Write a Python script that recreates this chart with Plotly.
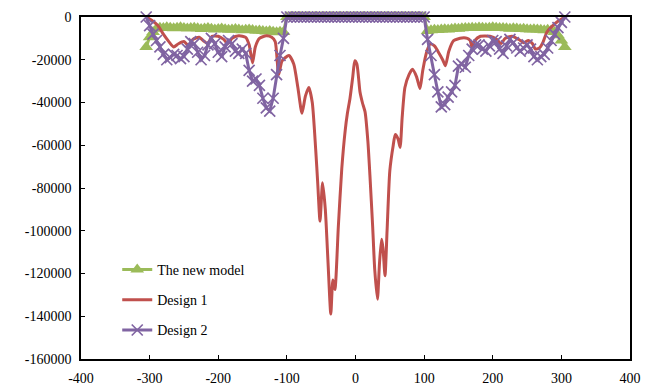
import plotly.graph_objects as go

# Sampling positions shared by the two marker series (step 5 from -305 to 305)
x_grid = list(range(-305, 310, 5))

new_model = [
    -14000, -9500, -7000, -5500, -5000, -5200, -4800, -5000, -5300, -5000,
    -4800, -5100, -5400, -5200, -5000, -5300, -5600, -5400, -5200, -5500,
    -5800, -5600, -5400, -5700, -6000, -5800, -5600, -5900, -6200, -6000,
    -5800, -6100, -6400, -6300, -6500, -6800, -6600, -6900, -7100, -6900,
    -7000, 0,
    0, 0, 0, 0, 0, 0, 0, 0, 0, 0,
    0, 0, 0, 0, 0, 0, 0, 0, 0, 0,
    0, 0, 0, 0, 0, 0, 0, 0, 0, 0,
    0, 0, 0, 0, 0, 0, 0, 0, 0,
    0, -6500, -6200, -6000, -6100, -5900, -5700, -5800, -5600, -5400,
    -5500, -5300, -5100, -5200, -5000, -5100, -4900, -5000, -5200, -5000,
    -4800, -5000, -5200, -5100, -5300, -5500, -5300, -5400, -5600, -5500,
    -5700, -5900, -5700, -5800, -6000, -6200, -6000, -6300, -7000, -8500,
    -11000, -14000,
]

design2 = [
    0, -4000, -8000, -11000, -14000, -17500, -20000, -19000, -17500, -18000,
    -19500, -18500, -15000, -11500, -12500, -16500, -20000, -18000, -13000, -10000,
    -12500, -16500, -18500, -14000, -11000, -12500, -16000, -17000, -15000, -17000,
    -25000, -30000, -29000, -32000, -38000, -42500, -44000, -38000, -27000, -18000,
    -10000, 0,
    0, 0, 0, 0, 0, 0, 0, 0, 0, 0,
    0, 0, 0, 0, 0, 0, 0, 0, 0, 0,
    0, 0, 0, 0, 0, 0, 0, 0, 0, 0,
    0, 0, 0, 0, 0, 0, 0, 0, 0,
    0, -10500, -18000, -27000, -35000, -42000, -41000, -37500, -35000, -32000,
    -23000, -22000, -23500, -18000, -15000, -13000, -13000, -15000, -16000, -13500,
    -11000, -11500, -15000, -17000, -13500, -10500, -12000, -14500, -16000, -14500,
    -13000, -15000, -18500, -20000, -18500, -17500, -14500, -11000, -8000, -5000,
    -2500, 0,
]

design1_x = [
    -305, -297, -288, -280, -272, -265, -258, -250, -243, -237,
    -228, -220, -215, -209, -200, -192, -186, -180, -170, -160,
    -155, -150, -146, -140, -130, -122, -117, -112, -107, -97,
    -90, -84, -78, -73, -68, -63, -58, -55, -51.7, -48,
    -44, -40, -36, -33, -30, -25, -20, -15, -12, -8,
    -4, -1, 2, 6.5, 10, 14, 18, 21, 25, 28,
    32, 35, 38, 40, 43, 46, 50, 55, 58, 62,
    65, 68, 72, 78, 83, 89, 94, 98, 104, 109,
    115, 120, 127, 131, 136, 143, 155, 163, 167, 170,
    174, 182, 196, 206, 212, 218, 228, 238, 245, 252,
    258, 262, 268, 273, 279, 286, 295, 305,
]
design1_y = [
    0, -1500, -4000, -8000, -11500, -14000, -12500, -11500, -13500, -10500,
    -9500, -11500, -12500, -9000, -9000, -10500, -12500, -10000, -8800, -9500,
    -13000, -21500, -14000, -10000, -8800, -9500, -11500, -27000, -20500, -18000,
    -22000, -33000, -45000, -37000, -33000, -40000, -62000, -78000, -95500, -77500,
    -90000, -115000, -139000, -123000, -127500, -98000, -71000, -53000, -45500, -38000,
    -28000, -20500, -22000, -35000, -40000, -44500, -58000, -74000, -98000, -118000,
    -132000, -115000, -104000, -108000, -121000, -100000, -72000, -60000, -55000, -57000,
    -61000, -47000, -33000, -27000, -24500, -28000, -33500, -25000, -16000, -12600,
    -13500, -16000, -20000, -22800, -16000, -11100, -9800, -10000, -11000, -14200,
    -11000, -9000, -9000, -10500, -12500, -10000, -9000, -10500, -12000, -11000,
    -12500, -15000, -14500, -12000, -7000, -4500, -2000, 0,
]

# Axis ticks, labelled with a plain hyphen-minus
x_ticks = [-400, -300, -200, -100, 0, 100, 200, 300, 400]
y_ticks = [0, -20000, -40000, -60000, -80000, -100000, -120000, -140000, -160000]

GREEN = "#9BBB59"
RED = "#C0504D"
PURPLE = "#8064A2"
FONT = "Times New Roman, Liberation Serif, serif"

fig = go.Figure()

fig.add_trace(go.Scatter(
    x=x_grid, y=new_model, name="The new model", mode="lines+markers",
    line=dict(color=GREEN, width=3),
    marker=dict(symbol="triangle-up", size=12, color=GREEN),
    legendgroup="a", cliponaxis=False,
))
fig.add_trace(go.Scatter(
    x=design1_x, y=design1_y, name="Design 1", mode="lines",
    line=dict(color=RED, width=3, shape="spline", smoothing=0.6),
    legendgroup="b", cliponaxis=False,
))
fig.add_trace(go.Scatter(
    x=x_grid, y=design2, name="Design 2", mode="lines+markers",
    line=dict(color=PURPLE, width=3),
    marker=dict(symbol="x-thin", size=11, color=PURPLE,
                line=dict(color=PURPLE, width=1.7)),
    legendgroup="c", cliponaxis=False,
))

axis_common = dict(
    showline=True, linecolor="black", linewidth=1.5, mirror=True,
    ticks="inside", tickcolor="black", ticklen=4, showgrid=False,
    zeroline=False, tickfont=dict(family=FONT, size=14, color="black"),
    tickmode="array", automargin=False,
)

fig.update_layout(
    width=654, height=389,
    margin=dict(l=81, r=24, t=17, b=30),
    paper_bgcolor="white", plot_bgcolor="white",
    font=dict(family=FONT, size=14, color="black"),
    showlegend=True,
    legend=dict(
        x=0.066, y=0.307, xanchor="left", yanchor="top",
        bgcolor="rgba(0,0,0,0)", traceorder="grouped", tracegroupgap=9,
        itemwidth=30,
        font=dict(family=FONT, size=14, color="black"),
    ),
    xaxis=dict(range=[-400, 400], tickvals=x_ticks, ticklabelstandoff=5,
               ticktext=[str(v) for v in x_ticks], **axis_common),
    yaxis=dict(range=[-160000, 0], tickvals=y_ticks, ticklabelstandoff=5,
               ticktext=[str(v) for v in y_ticks], **axis_common),
)

fig.write_html("out.html")
